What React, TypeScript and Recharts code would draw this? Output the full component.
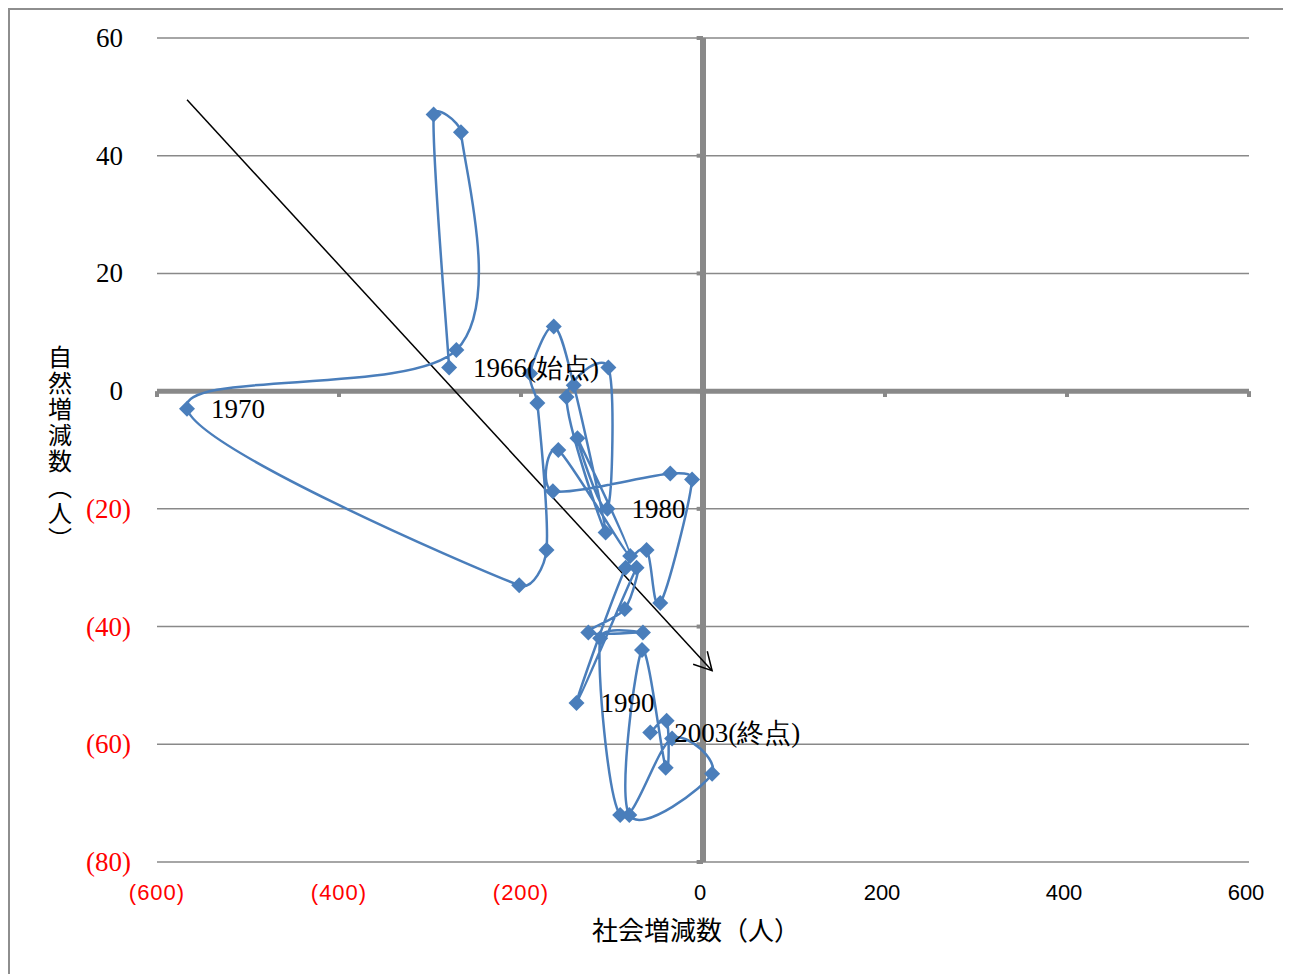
import React from 'react'
import {
  ScatterChart,
  Scatter,
  XAxis,
  YAxis,
  CartesianGrid,
  ReferenceLine,
  LabelList,
} from 'recharts'

// 1966〜2003 年の社会増減数（x）と自然増減数（y）、単位は人
const years = [
  1966, 1967, 1968, 1969, 1970, 1971, 1972, 1973, 1974, 1975,
  1976, 1977, 1978, 1979, 1980, 1981, 1982, 1983, 1984, 1985,
  1986, 1987, 1988, 1989, 1990, 1991, 1992, 1993, 1994, 1995,
  1996, 1997, 1998, 1999, 2000, 2001, 2002, 2003,
]
const socialChange = [
  -279, -296, -266, -271, -567, -202, -172, -182, -190, -164,
  -142, -107, -150, -104, -105, -138, -80, -159, -165, -36,
  -12, -47, -62, -85, -139, -73, -86, -126, -66, -113,
  -91, -34, 10, -81, -67, -41, -40, -58,
]
const naturalChange = [
  4, 47, 44, 7, -3, -33, -27, -2, 3, 11,
  1, -24, -1, 4, -20, -8, -28, -10, -17, -14,
  -15, -36, -27, -30, -53, -30, -37, -41, -41, -42,
  -72, -59, -65, -72, -44, -64, -56, -58,
]
const pointLabels: Record<number, string> = {
  1966: '1966(始点)',
  1970: '1970',
  1980: '1980',
  1990: '1990',
  2003: '2003(終点)',
}
const xTicks = [-600, -400, -200, 0, 200, 400, 600]
const yTicks = [-80, -60, -40, -20, 0, 20, 40, 60]
const trendArrow = [
  { x: -567, y: 49.5 },
  { x: 10, y: -47.5 },
]

const data = years.map((yr, i) => ({
  x: socialChange[i],
  y: naturalChange[i],
  label: pointLabels[yr] ?? '',
}))

const BLUE = '#4a7ebb'
const GRID = '#898989'
const serif = "'Liberation Serif', serif"
const cjk = "'Noto Sans CJK JP', sans-serif"

// Excel の「スムージング」風の曲線。制御点の腕は区間長の 1/3 まで
const smoothPath = (pts: { x: number; y: number }[]) => {
  if (!pts || pts.length < 2) return ''
  const arm = (a: any, b: any, seg: number) => {
    let tx = (b.x - a.x) / 6
    let ty = (b.y - a.y) / 6
    const len = Math.hypot(tx, ty)
    const cap = seg / 3
    if (len > cap && len > 0) {
      tx *= cap / len
      ty *= cap / len
    }
    return { x: tx, y: ty }
  }
  let d = `M${pts[0].x},${pts[0].y}`
  for (let i = 0; i < pts.length - 1; i++) {
    const p0 = pts[i - 1] ?? pts[i]
    const p1 = pts[i]
    const p2 = pts[i + 1]
    const p3 = pts[i + 2] ?? p2
    const seg = Math.hypot(p2.x - p1.x, p2.y - p1.y)
    const t1 = arm(p0, p2, seg)
    const t2 = arm(p1, p3, seg)
    d += ` C${p1.x + t1.x},${p1.y + t1.y} ${p2.x - t2.x},${p2.y - t2.y} ${p2.x},${p2.y}`
  }
  return d
}

const SmoothLine = (props: any) => (
  <path
    d={smoothPath(props.points)}
    fill="none"
    stroke={BLUE}
    strokeWidth={2.5}
  />
)

const Diamond = (props: any) => {
  const { cx, cy } = props
  const r = 8
  return (
    <polygon
      points={`${cx},${cy - r} ${cx + r},${cy} ${cx},${cy + r} ${cx - r},${cy}`}
      fill={BLUE}
    />
  )
}

const YTick = ({ x, y, payload }: any) => {
  const v = payload.value
  const neg = v < 0
  return (
    <text
      x={neg ? x : x - 8}
      y={y}
      textAnchor="end"
      dominantBaseline="central"
      fontFamily={serif}
      fontSize={27}
      fill={neg ? '#ff0000' : '#000'}
    >
      {neg ? `(${-v})` : v}
    </text>
  )
}

const XTick = ({ x, y, payload }: any) => {
  const v = payload.value
  const neg = v < 0
  return (
    <text
      x={neg ? x : x - 3}
      y={y + 30}
      textAnchor="middle"
      dominantBaseline="central"
      fontFamily="'Liberation Sans Narrow', 'Liberation Sans', sans-serif"
      fontSize={22}
      fill={neg ? '#ff0000' : '#000'}
      letterSpacing={neg ? 1 : 0}
    >
      {neg ? `(${-v})` : v}
    </text>
  )
}

// 縦書きの軸タイトル
const YTitle = (props: any) => {
  const vb = props.viewBox ?? { x: 20, y: 28, width: 127, height: 824 }
  const cx = vb.x + 30
  const top = vb.y + vb.height / 2 - 105
  return (
    <text
      x={cx}
      y={top}
      fontFamily={cjk}
      fontSize={24}
      fill="#000"
      letterSpacing={2}
      style={{ writingMode: 'vertical-rl' }}
    >
      自然増減数（人）
    </text>
  )
}

const PointLabel = (props: any) => {
  const { x, y, width, height, value } = props
  if (!value) return null
  const cx = x + (width ?? 0) / 2
  const cy = y + (height ?? 0) / 2
  return (
    <text
      x={cx + 24}
      y={cy}
      dominantBaseline="central"
      fontFamily={serif}
      fontSize={27}
      fill="#000"
    >
      {value}
    </text>
  )
}

const Arrow = (props: any) => {
  const { x1, y1, x2, y2 } = props
  const ang = Math.atan2(y2 - y1, x2 - x1)
  const len = 20
  const spread = 0.5
  const ax1 = x2 - len * Math.cos(ang - spread)
  const ay1 = y2 - len * Math.sin(ang - spread)
  const ax2 = x2 - len * Math.cos(ang + spread)
  const ay2 = y2 - len * Math.sin(ang + spread)
  return (
    <g>
      <line x1={x1} y1={y1} x2={x2} y2={y2} stroke="#000" strokeWidth={1.5} />
      <polyline
        points={`${ax1},${ay1} ${x2},${y2} ${ax2},${ay2}`}
        fill="none"
        stroke="#000"
        strokeWidth={1.5}
      />
    </g>
  )
}

export default function App() {
  return (
    <div
      style={{
        width: 1283,
        height: 966,
        borderTop: '2px solid #8e8e8e',
        borderLeft: '2px solid #8e8e8e',
        boxSizing: 'border-box',
        overflow: 'hidden',
        background: '#fff',
      }}
    >
      <ScatterChart
        width={1281}
        height={964}
        margin={{ top: 28, right: 42, left: 20, bottom: 22 }}
      >
        <CartesianGrid vertical={false} stroke={GRID} strokeWidth={1.5} />
        <XAxis
          type="number"
          dataKey="x"
          domain={[-600, 600]}
          ticks={xTicks}
          interval={0}
          height={90}
          axisLine={false}
          tickLine={false}
          tickSize={0}
          tickMargin={0}
          tick={<XTick />}
          label={{
            value: '社会増減数（人）',
            position: 'insideBottom',
            offset: 12,
            dx: -7,
            fontSize: 26,
            fontFamily: cjk,
            fill: '#000',
          }}
        />
        <YAxis
          type="number"
          dataKey="y"
          domain={[-80, 60]}
          ticks={yTicks}
          interval={0}
          width={127}
          axisLine={false}
          tickLine={false}
          tickSize={0}
          tickMargin={26}
          tick={<YTick />}
          label={{ content: YTitle }}
        />
        <ReferenceLine y={0} stroke={GRID} strokeWidth={5} />
        <ReferenceLine x={0} stroke={GRID} strokeWidth={6} />
        {xTicks
          .filter((t) => t !== 0)
          .map((t) => (
            <ReferenceLine
              key={`xt${t}`}
              segment={[
                { x: t, y: 0 },
                { x: t, y: -1 },
              ]}
              stroke={GRID}
              strokeWidth={4}
            />
          ))}
        {yTicks.map((t) => (
          <ReferenceLine
            key={`yt${t}`}
            segment={[
              { x: -7, y: t },
              { x: 0, y: t },
            ]}
            stroke={GRID}
            strokeWidth={4}
          />
        ))}
        <Scatter
          data={data}
          fill={BLUE}
          line={SmoothLine}
          lineType="joint"
          shape={Diamond}
          isAnimationActive={false}
        >
          <LabelList dataKey="label" content={PointLabel} />
        </Scatter>
        <ReferenceLine segment={trendArrow} shape={Arrow} />
      </ScatterChart>
    </div>
  )
}
